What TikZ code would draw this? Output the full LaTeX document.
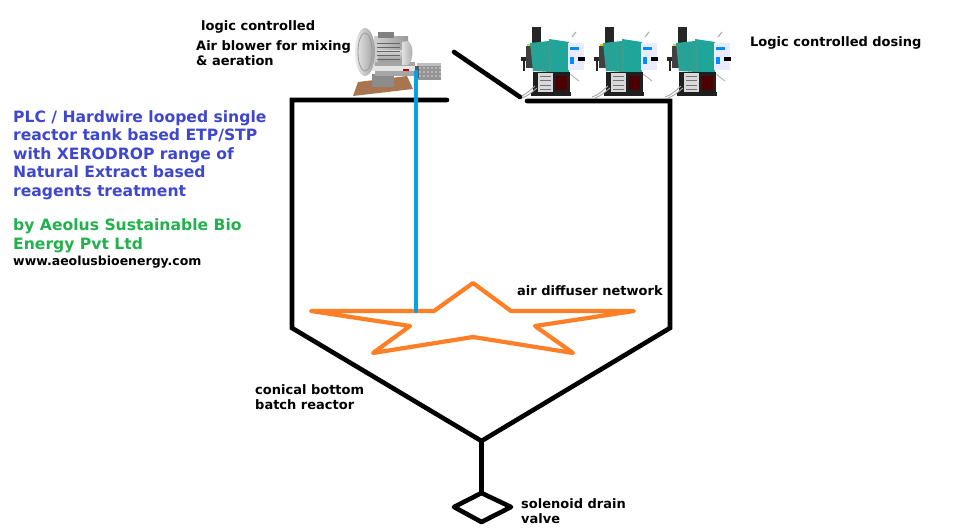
\documentclass[tikz,border=0pt]{standalone}
\usepackage{fontspec}
\setmainfont{DejaVu Sans}[BoldFont={DejaVu Sans Bold}]
\definecolor{headblue}{HTML}{3F48CC}
\definecolor{headgreen}{HTML}{22B14C}
\definecolor{pipeblue}{HTML}{00A2E8}
\definecolor{starorange}{HTML}{FF7F27}
\definecolor{pumpteal}{HTML}{1FA59A}
\definecolor{pumpdark}{HTML}{3C9C8E}
\definecolor{wood}{HTML}{A87550}
\tikzset{
  wall/.style={line width=4.6pt,black,line cap=round,line join=miter},
  air/.style={line width=4.6pt,pipeblue,line cap=round},
  star/.style={line width=4.2pt,starorange,line join=round,line cap=round},
  lbl/.style={anchor=west,inner sep=0pt,font=\bfseries\fontsize{13pt}{14.5pt}\selectfont,text=black,align=left},
  head/.style={anchor=west,inner sep=0pt,font=\bfseries\fontsize{15.6pt}{18.6pt}\selectfont,align=left},
}
\newcommand{\dosingpump}[1]{%
  \begin{scope}[xshift=#1pt]
    \fill[black!85] (532,27) rectangle (541,44);
    \fill[black!85] (521,57) rectangle (530,61);
    \fill[black!85] (523,60) rectangle (524.5,71);
    \fill[yellow!85!black] (527,44) rectangle (531,47);
    \fill[black!75] (526,46) rectangle (533,68);
    \fill[pumpteal] (530,43) -- (549,41) -- (551,72) -- (533,71) -- cycle;
    \foreach \k in {0,1,2,3,4,5}{\draw[pumpdark,line width=.8pt] (532+\k*3,43) -- (533.5+\k*3,71);}
    \fill[pumpteal] (549,39) -- (569,42) -- (569,72) -- (549,72) -- cycle;
    \fill[pumpdark] (549,39) rectangle (551,72);
    \fill[white!92!blue] (568,43) rectangle (584,70);
    \fill[blue!45!cyan] (570,47) rectangle (579,50);
    \fill[blue!45!cyan] (570,57) rectangle (574,64);
    \fill[black] (578,57) rectangle (585,61);
    \fill[black!88] (533,72) rectangle (570,94);
    \fill[black!88] (531,92) rectangle (571,96);
    \fill[white!85!black] (538,73) rectangle (553,92);
    \foreach \k in {0,1,2,3}{\draw[black!55,line width=.8pt] (540,76+\k*4.5) -- (551,76+\k*4.5);}
    \fill[red!30!black] (556,76) rectangle (567,90);
    \draw[black!35,line width=.9pt] (519,97) .. controls (526,95) and (530,90) .. (535,86);
    \draw[black!35,line width=.9pt] (522,98) .. controls (528,96) and (532,92) .. (537,88);
    \draw[black!30,line width=.9pt] (570,74) -- (579,81);
    \draw[black!30,line width=1.2pt] (572,37) -- (576,32);
  \end{scope}}
\begin{document}
\begin{tikzpicture}[x=1pt,y=-1pt]
\useasboundingbox (0,0) rectangle (954,530);
\fill[white] (0,0) rectangle (954,530);

% blower
\fill[wood] (353,96) -- (358,82) -- (407,76) -- (413,89) -- cycle;
\fill[black!45] (372,74) rectangle (394,87);
\shade[left color=black!18,right color=black!40] (374,36) rectangle (408,65);
\shade[top color=black!15,bottom color=black!45] (378,50) rectangle (402,64);
\fill[black!35] (375,62) rectangle (415,76);
\fill[black!10] (372,66) rectangle (416,71);
\fill[red!70!black] (403,69) rectangle (409,71);
\shade[left color=black!12,right color=black!35] (402,42) -- (408,41) .. controls (414,45) and (414,60) .. (408,65) -- (402,65) -- cycle;
\fill[black!50] (378,32) rectangle (394,38);
\foreach \b in {43,47,51,55,59}{\draw[black!60,line width=.6pt] (377,\b) -- (400,\b);}
\shade[left color=black!8,right color=black!38] (365,52) ellipse (10 and 24);
\draw[black!40,line width=.8pt] (365,52) ellipse (7 and 19);
\fill[black!42] (417,65) rectangle (441,80);
\fill[black!25] (417,63) rectangle (441,66);
\foreach \a in {420,424,...,440}{\foreach \b in {68,72,76}{\fill[black!15] (\a,\b) circle (.9);}}
\fill[black!65] (415,66) rectangle (419,78);

% pumps
\dosingpump{0}
\dosingpump{73}
\dosingpump{146}

% tank
\coordinate (lidL) at (447,100);
\coordinate (tl) at (292,100);
\coordinate (ll) at (292,328);
\coordinate (apex) at (481.5,441);
\coordinate (lr) at (670,328);
\coordinate (tr) at (670,101);
\coordinate (tm) at (527,101);
\coordinate (hingeA) at (454,52);
\coordinate (hingeB) at (520,97);
\draw[wall] (lidL) -- (tl) -- (ll) -- (apex) -- (lr) -- (tr) -- (tm);
\draw[wall] (hingeA) -- (hingeB);

% drain valve
\coordinate (vt) at (481.5,493);
\coordinate (vr) at (511,507);
\coordinate (vb) at (481.5,522);
\coordinate (vl) at (454,507);
\draw[wall,line join=round] (vt) -- (vr) -- (vb) -- (vl) -- cycle;
\draw[wall] (apex) -- (vt);

% star
\coordinate (s1) at (311,311); \coordinate (s2) at (434,311);
\coordinate (s3) at (473,283); \coordinate (s4) at (511,311);
\coordinate (s5) at (634,311); \coordinate (s6) at (535,326);
\coordinate (s7) at (573,353); \coordinate (s8) at (473,337);
\coordinate (s9) at (373,353); \coordinate (s10) at (410,326);
\draw[star] (s1) -- (s2) -- (s3) -- (s4) -- (s5) -- (s6) -- (s7) -- (s8) -- (s9) -- (s10) -- cycle;
\coordinate (airT) at (416,72);
\coordinate (airB) at (416,311);
\draw[air] (airT) -- (airB);

% text
\node[head,text=headblue] (title) at (13,155) {PLC / Hardwire looped single\\reactor tank based ETP/STP\\with XERODROP range of\\Natural Extract based\\reagents treatment};
\node[head,text=headgreen] (by) at (13,236) {by Aeolus Sustainable Bio\\Energy Pvt Ltd};
\node[lbl,font=\bfseries\fontsize{12.5pt}{13pt}\selectfont] (web) at (13,262) {www.aeolusbioenergy.com};
\node[lbl] (l1) at (201,27) {logic controlled};
\node[lbl] (l2) at (196,53) {Air blower for mixing\\\&\ aeration};
\node[lbl] (l3) at (750,43) {Logic controlled dosing};
\node[lbl] (l4) at (517,291) {air diffuser network};
\node[lbl] (l5) at (255,397) {conical bottom\\batch reactor};
\node[lbl] (l6) at (521,511) {solenoid drain\\valve};
\end{tikzpicture}
\end{document}
